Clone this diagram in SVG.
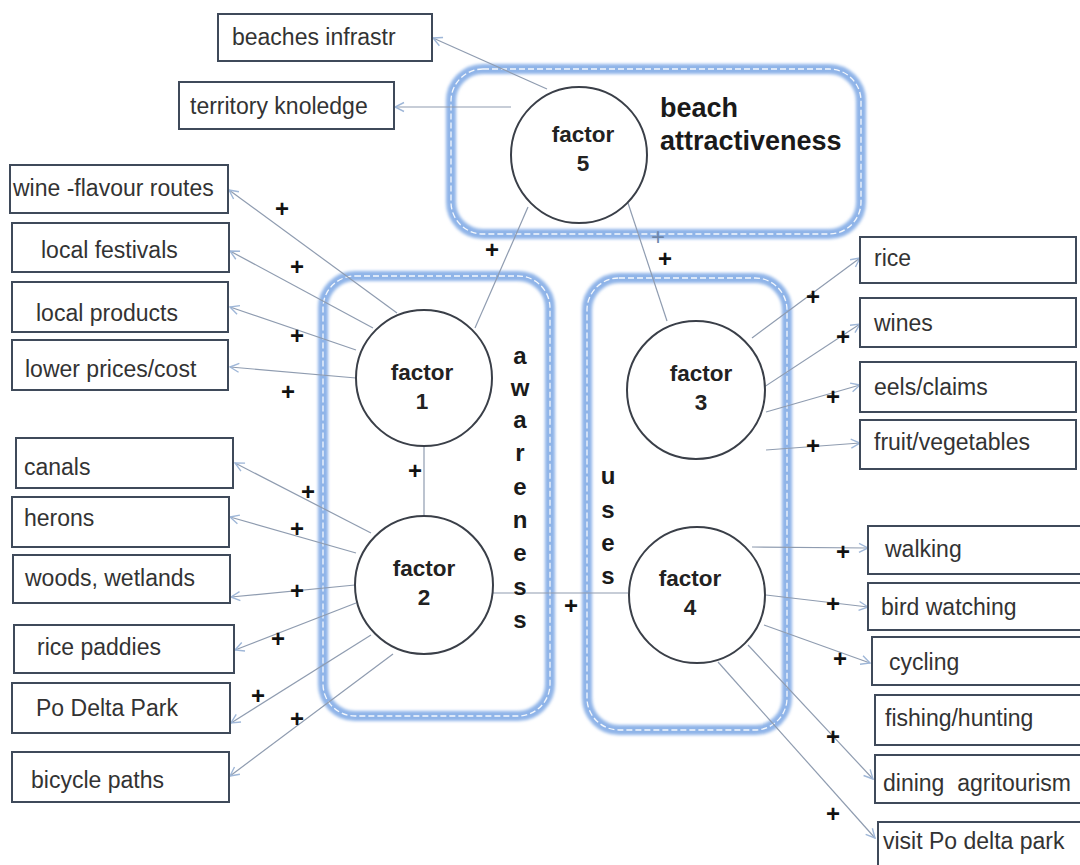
<svg xmlns="http://www.w3.org/2000/svg" width="1080" height="865" viewBox="0 0 1080 865">
  <defs>
    <style>
      .box rect { fill: #ffffff; stroke: #3f4a5a; stroke-width: 2; }
      .box text { font-family: "Liberation Sans", Arial, sans-serif; font-size: 23px; fill: #333333; white-space: pre; }
      .factor circle { fill: #ffffff; stroke: #3a3f48; stroke-width: 2; }
      .factor text { font-family: "Liberation Sans", Arial, sans-serif; font-size: 22.5px; font-weight: bold; fill: #222222; text-anchor: middle; }
      .group-frame { fill: none; stroke: #8fb4e8; stroke-width: 10; }
      .group-inner { fill: none; stroke: #ffffff; stroke-width: 1.3; stroke-dasharray: 6 3; opacity: 0.9; }
      .group-label { font-family: "Liberation Sans", Arial, sans-serif; font-size: 27px; font-weight: bold; fill: #1a1a1a; }
      .vletter { font-family: "Liberation Sans", Arial, sans-serif; font-size: 24px; font-weight: bold; fill: #1a1a1a; text-anchor: middle; }
      .link { stroke: #8f9cb0; stroke-width: 1.2; fill: none; }
      .arrow { marker-end: url(#openHead); }
      .plus { font-family: "Liberation Sans", Arial, sans-serif; font-size: 24px; font-weight: bold; fill: #111111; text-anchor: middle; }
      .plus-faint { font-weight: normal; fill: #6d86aa; }
    </style>
    <marker id="openHead" viewBox="0 0 12 12" refX="11" refY="6" markerWidth="12" markerHeight="12" markerUnits="userSpaceOnUse" orient="auto">
      <polyline points="2,1.5 11,6 2,10.5" fill="none" stroke="#9fb7d8" stroke-width="1.4"/>
    </marker>
    <filter id="soft" x="-5%" y="-5%" width="110%" height="110%">
      <feGaussianBlur stdDeviation="1.6"/>
    </filter>
  </defs>

  <rect width="1080" height="865" fill="#ffffff"/>

  <!-- group frames -->
  <g id="frames">
    <g id="frame-beach">
      <rect class="group-frame" x="451" y="69" width="410" height="165" rx="32" filter="url(#soft)"/>
      <rect class="group-inner" x="451" y="69" width="410" height="165" rx="32"/>
    </g>
    <g id="frame-awareness">
      <rect class="group-frame" x="323" y="276" width="227" height="440" rx="32" filter="url(#soft)"/>
      <rect class="group-inner" x="323" y="276" width="227" height="440" rx="32"/>
    </g>
    <g id="frame-uses">
      <rect class="group-frame" x="587" y="278" width="200" height="452" rx="32" filter="url(#soft)"/>
      <rect class="group-inner" x="587" y="278" width="200" height="452" rx="32"/>
    </g>
  </g>

  <!-- connectors -->
  <g id="connectors">
    <!-- factor 5 -->
    <line class="link arrow" x1="547" y1="89" x2="433" y2="38"/>
    <line class="link arrow" x1="511" y1="107" x2="395" y2="107"/>
    <line class="link" x1="528" y1="207" x2="475" y2="328"/>
    <line class="link" x1="628" y1="203" x2="667" y2="321"/>
    <!-- factor 1 -->
    <line class="link arrow" x1="397" y1="313" x2="229" y2="190"/>
    <line class="link arrow" x1="373" y1="328" x2="230" y2="251"/>
    <line class="link arrow" x1="356" y1="350" x2="230" y2="307"/>
    <line class="link arrow" x1="356" y1="378" x2="230" y2="367"/>
    <line class="link" x1="424" y1="446" x2="424" y2="516"/>
    <!-- factor 2 -->
    <line class="link arrow" x1="371" y1="533" x2="235" y2="463"/>
    <line class="link arrow" x1="356" y1="553" x2="230" y2="517"/>
    <line class="link arrow" x1="355" y1="585" x2="231" y2="597"/>
    <line class="link arrow" x1="356" y1="603" x2="235" y2="650"/>
    <line class="link arrow" x1="371" y1="635" x2="231" y2="723"/>
    <line class="link arrow" x1="393" y1="654" x2="230" y2="776"/>
    <line class="link" x1="493" y1="593" x2="628" y2="593"/>
    <!-- factor 3 -->
    <line class="link arrow" x1="752" y1="338" x2="860" y2="258"/>
    <line class="link arrow" x1="755" y1="393" x2="860" y2="324"/>
    <line class="link arrow" x1="766" y1="412" x2="860" y2="385"/>
    <line class="link arrow" x1="766" y1="450" x2="860" y2="443"/>
    <!-- factor 4 -->
    <line class="link arrow" x1="752" y1="547" x2="868" y2="548"/>
    <line class="link arrow" x1="766" y1="595" x2="868" y2="607"/>
    <line class="link arrow" x1="764" y1="625" x2="870" y2="663"/>
    <line class="link arrow" x1="748" y1="645" x2="873" y2="779"/>
    <line class="link arrow" x1="718" y1="662" x2="875" y2="838"/>
  </g>

  <!-- sign labels on the links -->
  <g id="signs">
    <text class="plus" x="492" y="258">+</text>
    <text class="plus plus-faint" x="658" y="245">+</text>
    <text class="plus" x="665" y="267">+</text>
    <text class="plus" x="282" y="217">+</text>
    <text class="plus" x="297" y="275">+</text>
    <text class="plus" x="297" y="344">+</text>
    <text class="plus" x="288" y="400">+</text>
    <text class="plus" x="415" y="479">+</text>
    <text class="plus" x="308" y="500">+</text>
    <text class="plus" x="297" y="537">+</text>
    <text class="plus" x="297" y="599">+</text>
    <text class="plus" x="278" y="647">+</text>
    <text class="plus" x="258" y="704">+</text>
    <text class="plus" x="297" y="727">+</text>
    <text class="plus" x="571" y="614">+</text>
    <text class="plus" x="813" y="305">+</text>
    <text class="plus" x="843" y="345">+</text>
    <text class="plus" x="833" y="405">+</text>
    <text class="plus" x="813" y="454">+</text>
    <text class="plus" x="843" y="560">+</text>
    <text class="plus" x="833" y="612">+</text>
    <text class="plus" x="840" y="667">+</text>
    <text class="plus" x="833" y="745">+</text>
    <text class="plus" x="833" y="822">+</text>
  </g>

  <!-- factor circles -->
  <g id="factor5" class="factor">
    <circle cx="579" cy="155" r="68"/>
    <text x="583" y="142">factor</text>
    <text x="583" y="171">5</text>
  </g>
  <g id="factor1" class="factor">
    <circle cx="424" cy="378" r="68"/>
    <text x="422" y="380">factor</text>
    <text x="422" y="409">1</text>
  </g>
  <g id="factor2" class="factor">
    <circle cx="424" cy="585" r="69"/>
    <text x="424" y="576">factor</text>
    <text x="424" y="605">2</text>
  </g>
  <g id="factor3" class="factor">
    <circle cx="696" cy="390" r="69"/>
    <text x="701" y="381">factor</text>
    <text x="701" y="410">3</text>
  </g>
  <g id="factor4" class="factor">
    <circle cx="697" cy="595" r="68"/>
    <text x="690" y="586">factor</text>
    <text x="690" y="615">4</text>
  </g>

  <!-- group captions -->
  <g id="caption-beach">
    <text class="group-label" x="660" y="117">beach</text>
    <text class="group-label" x="660" y="150">attractiveness</text>
  </g>
  <g id="caption-awareness">
    <text class="vletter" x="520" y="364">a</text>
    <text class="vletter" x="520" y="396">w</text>
    <text class="vletter" x="520" y="428">a</text>
    <text class="vletter" x="520" y="461">r</text>
    <text class="vletter" x="520" y="495">e</text>
    <text class="vletter" x="520" y="528">n</text>
    <text class="vletter" x="520" y="561">e</text>
    <text class="vletter" x="520" y="595">s</text>
    <text class="vletter" x="520" y="628">s</text>
  </g>
  <g id="caption-uses">
    <text class="vletter" x="608" y="484">u</text>
    <text class="vletter" x="608" y="518">s</text>
    <text class="vletter" x="608" y="551">e</text>
    <text class="vletter" x="608" y="584">s</text>
  </g>

  <!-- factor 5 items -->
  <g id="beaches-infrastr" class="box"><rect x="218" y="14" width="214" height="47"/><text x="232" y="45">beaches infrastr</text></g>
  <g id="territory-knoledge" class="box"><rect x="179" y="82" width="215" height="47"/><text x="190" y="114">territory knoledge</text></g>

  <!-- factor 1 items -->
  <g id="wine-flavour-routes" class="box"><rect x="10" y="165" width="218" height="48"/><text x="13" y="196">wine -flavour routes</text></g>
  <g id="local-festivals" class="box"><rect x="12" y="223" width="217" height="49"/><text x="41" y="258">local festivals</text></g>
  <g id="local-products" class="box"><rect x="12" y="282" width="216" height="50"/><text x="36" y="321">local products</text></g>
  <g id="lower-prices" class="box"><rect x="12" y="340" width="216" height="50"/><text x="25" y="377">lower prices/cost</text></g>

  <!-- factor 2 items -->
  <g id="canals" class="box"><rect x="16" y="438" width="217" height="50"/><text x="24" y="475">canals</text></g>
  <g id="herons" class="box"><rect x="12" y="497" width="217" height="50"/><text x="24" y="526">herons</text></g>
  <g id="woods-wetlands" class="box"><rect x="13" y="555" width="217" height="48"/><text x="25" y="586">woods, wetlands</text></g>
  <g id="rice-paddies" class="box"><rect x="14" y="625" width="220" height="48"/><text x="37" y="655">rice paddies</text></g>
  <g id="po-delta-park" class="box"><rect x="12" y="683" width="218" height="50"/><text x="36" y="716">Po Delta Park</text></g>
  <g id="bicycle-paths" class="box"><rect x="12" y="752" width="217" height="50"/><text x="31" y="788">bicycle paths</text></g>

  <!-- factor 3 items -->
  <g id="rice" class="box"><rect x="860" y="237" width="216" height="46"/><text x="874" y="266">rice</text></g>
  <g id="wines" class="box"><rect x="860" y="298" width="216" height="49"/><text x="874" y="331">wines</text></g>
  <g id="eels-claims" class="box"><rect x="860" y="362" width="216" height="50"/><text x="874" y="395">eels/claims</text></g>
  <g id="fruit-vegetables" class="box"><rect x="860" y="420" width="216" height="49"/><text x="874" y="450">fruit/vegetables</text></g>

  <!-- factor 4 items -->
  <g id="walking" class="box"><rect x="868" y="526" width="220" height="48"/><text x="885" y="557">walking</text></g>
  <g id="bird-watching" class="box"><rect x="868" y="583" width="220" height="47"/><text x="881" y="615">bird watching</text></g>
  <g id="cycling" class="box"><rect x="872" y="637" width="216" height="48"/><text x="889" y="670">cycling</text></g>
  <g id="fishing-hunting" class="box"><rect x="875" y="695" width="213" height="50"/><text x="885" y="726">fishing/hunting</text></g>
  <g id="dining-agritourism" class="box"><rect x="875" y="755" width="213" height="48"/><text x="883" y="791">dining  agritourism</text></g>
  <g id="visit-po-delta-park" class="box"><rect x="878" y="822" width="210" height="60"/><text x="883" y="849">visit Po delta park</text></g>
</svg>
